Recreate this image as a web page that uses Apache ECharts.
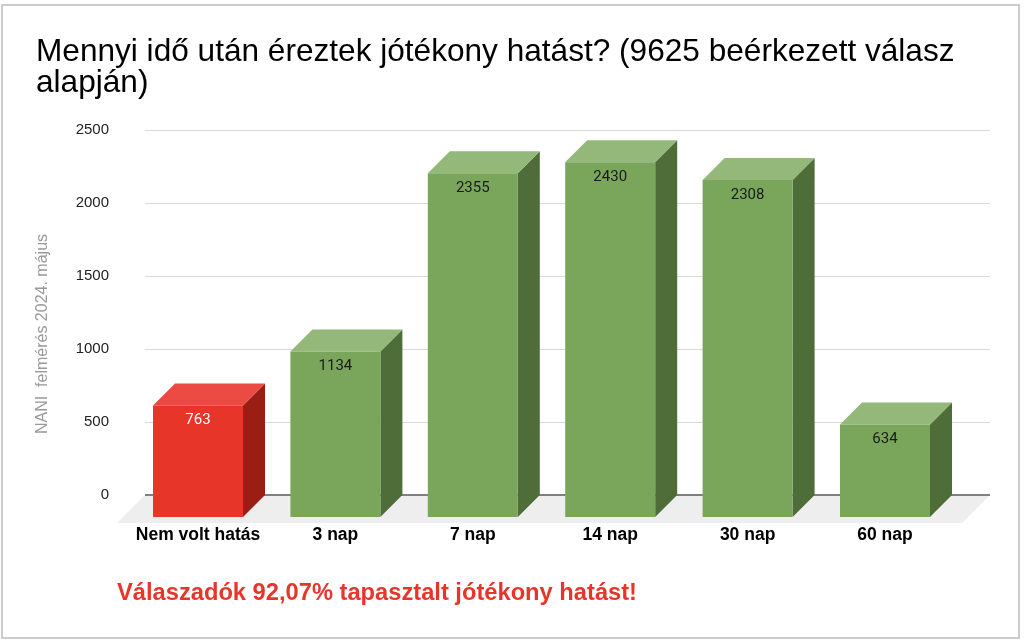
<!DOCTYPE html>
<html>
<head>
<meta charset="utf-8">
<script src="https://cdn.jsdelivr.net/npm/echarts@6/dist/echarts.min.js"></script>
<style>html,body{margin:0;padding:0;background:#fff;}#c{width:1024px;height:643px;}</style>
</head>
<body>
<div id="c"></div>
<script>
const categories = ['Nem volt hatás', '3 nap', '7 nap', '14 nap', '30 nap', '60 nap'];
const values = [763, 1134, 2355, 2430, 2308, 634];
const yMin = 0, yMax = 2500, yStep = 500;
const titleLines = ['Mennyi idő után éreztek jótékony hatást? (9625 beérkezett válasz', 'alapján)'];
const yName = 'NANI  felmérés 2024. május';
const noteText = 'Válaszadók 92,07% tapasztalt jótékony hatást!';

const RED = {front: '#E8352A', top: '#EC4B43', side: '#9B1E15', label: '#ffffff'};
const GREEN = {front: '#7AA65C', top: '#93B87A', side: '#4E6D39', label: '#1a1a1a'};
const DEPTH = 22;
const FLOOR_DEPTH = 28;
const FONT = '"Liberation Sans", Arial, sans-serif';

function renderBar(params, api) {
  const i = api.value(0), v = api.value(1);
  const top = api.coord([i, v]);
  const base = api.coord([i, 0]);
  const bw = api.size([1, 0])[0];
  const w = bw * 0.655, d = DEPTH;
  const bl = top[0] - w / 2, br = top[0] + w / 2;
  const fl = bl - d, fr = br - d;
  const bt = top[1], ft = top[1] + d;
  const by = base[1], fb = base[1] + d;
  const c = i === 0 ? RED : GREEN;
  return {
    type: 'group',
    children: [
      {type: 'polygon', shape: {points: [[fr, ft], [br, bt], [br, by], [fr, fb]]}, style: {fill: c.side}},
      {type: 'polygon', shape: {points: [[fl, ft], [fr, ft], [br, bt], [bl, bt]]}, style: {fill: c.top}},
      {type: 'rect', shape: {x: fl, y: ft, width: w, height: fb - ft}, style: {fill: c.front}},
      {type: 'text', x: fl + w / 2, y: ft + 15, style: {text: String(v), fill: c.label, font: '15px Roboto, sans-serif', align: 'center', verticalAlign: 'middle'}}
    ]
  };
}

function renderFloor(params, api) {
  const cs = params.coordSys;
  const x0 = cs.x, x1 = cs.x + cs.width, y0 = cs.y + cs.height, fd = FLOOR_DEPTH;
  return {
    type: 'group',
    children: [
      {type: 'polygon', shape: {points: [[x0, y0], [x1, y0], [x1 - fd, y0 + fd], [x0 - fd, y0 + fd]]}, style: {fill: '#eeeeee'}},
      {type: 'line', shape: {x1: x0, y1: y0, x2: x1, y2: y0}, style: {stroke: '#808080', lineWidth: 2}}
    ]
  };
}

const chart = echarts.init(document.getElementById('c'));
chart.setOption({
  animation: false,
  backgroundColor: '#fff',
  title: [
    {text: titleLines.join('\n'), left: 36, top: 37, padding: 0,
     textStyle: {fontFamily: FONT, fontSize: 31.6, lineHeight: 31, fontWeight: 'normal', color: '#000'}},
    {text: noteText, left: 117, top: 581, padding: 0,
     textStyle: {fontFamily: FONT, fontSize: 23.7, fontWeight: 'bold', color: '#E8352A'}}
  ],
  grid: [
    {left: 145, right: 34, top: 130, bottom: 148},
    {left: 151.3, right: 48.3, top: 130, bottom: 148}
  ],
  xAxis: [
    {gridIndex: 0, type: 'value', min: 0, max: 1, show: false},
    {gridIndex: 1, type: 'category', data: categories,
     axisLine: {show: false}, axisTick: {show: false},
     axisLabel: {interval: 0, margin: 31, fontFamily: FONT, fontSize: 17.5, fontWeight: 'bold', color: '#000', padding: [0, 44, 0, 0]}}
  ],
  yAxis: [
    {gridIndex: 0, type: 'value', min: yMin, max: yMax, interval: yStep,
     axisLine: {show: false}, axisTick: {show: false},
     axisLabel: {margin: 36, fontFamily: FONT, fontSize: 15, color: '#222', formatter: v => String(v)},
     splitLine: {lineStyle: {color: '#d9d9d9', width: 1}}},
    {gridIndex: 1, type: 'value', min: yMin, max: yMax, interval: yStep, show: false, splitLine: {show: false}}
  ],
  graphic: [
    {type: 'text', x: 43, y: 334, rotation: Math.PI / 2,
     style: {text: yName, fill: '#999', font: '16px ' + FONT, align: 'center', verticalAlign: 'middle'}},
    {type: 'rect', shape: {x: 2, y: 5, width: 1017, height: 633}, style: {fill: 'none', stroke: '#cccccc', lineWidth: 2}, z: 100}
  ],
  series: [
    {type: 'custom', xAxisIndex: 0, yAxisIndex: 0, z: 1, data: [[0, 0]], renderItem: renderFloor, silent: true},
    {type: 'custom', xAxisIndex: 1, yAxisIndex: 1, z: 2, data: categories.map((c, i) => [i, values[i]]), renderItem: renderBar}
  ]
});
</script>
</body>
</html>
